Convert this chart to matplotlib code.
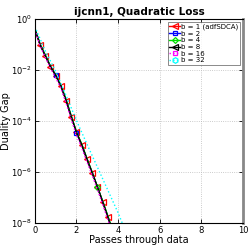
import matplotlib
matplotlib.use("Agg")
import matplotlib.pyplot as plt
import numpy as np

# data (log10 of duality gap)
x_grid = [0, 0.25, 0.5, 0.75, 1.0, 1.25, 1.5, 1.75, 2.0, 2.25, 2.5, 2.75, 3.0, 3.25, 3.5, 3.62]
red_log = [-0.4, -1.02, -1.45, -1.88, -2.22, -2.63, -3.2, -3.85, -4.45, -4.94, -5.5, -6.03, -6.57, -7.16, -7.75, -8.05]
blue_log = [-0.38, -1.0, -1.43, -1.86, -2.2, -2.62, -3.18, -3.82, -4.46, -4.93, -5.48, -6.01, -6.57, -7.14, -7.73, -8.03]
green_log = [-0.36, -0.98, -1.41, -1.85, -2.2, -2.6, -3.16, -3.8, -4.43, -4.9, -5.46, -6.0, -6.57, -7.12, -7.7, -8.0]
black_log = [-0.39, -1.01, -1.44, -1.87, -2.21, -2.62, -3.19, -3.84, -4.45, -4.93, -5.49, -6.02, -6.57, -7.15, -7.74, -8.04]
magenta_log = [-0.42, -1.05, -1.5, -1.93, -2.3, -2.72, -3.3, -3.95, -4.55, -5.05, -5.6, -6.12, -6.67, -7.25, -7.85, -8.15]
x_cyan = [0, 0.5, 1.0, 1.5, 2.0, 2.5, 3.0, 3.5, 4.0, 4.25]
cyan_log = [-0.3, -1.25, -2.05, -3.0, -3.98, -4.9, -5.8, -6.7, -7.6, -8.1]

labels = ["b = 1 (adfSDCA)", "b = 2", "b = 4", "b = 8", "b = 16", "b = 32"]

fig = plt.figure(figsize=(2.49, 2.49), dpi=100)
ax = fig.add_axes([0.14, 0.104, 0.836, 0.82])

ax.plot(x_grid, np.power(10.0, red_log), color="red", lw=1.0, marker="<", ms=4, mfc="none",
        mew=0.9, markevery=list(range(1, 15)), label=labels[0])
ax.plot(x_grid, np.power(10.0, blue_log), color="blue", lw=1.0, marker="s", ms=3.5, mfc="none",
        mew=0.9, markevery=[4, 8], label=labels[1])
ax.plot(x_grid, np.power(10.0, green_log), color="#00dd00", lw=1.0, marker="D", ms=3, mfc="none",
        mew=0.9, markevery=[12], label=labels[2])
ax.plot(x_grid, np.power(10.0, black_log), color="black", lw=1.0, marker="<", ms=4, mfc="none",
        mew=0.9, markevery=[], label=labels[3])
ax.plot(x_grid, np.power(10.0, magenta_log), color="magenta", lw=1.0, ls=":", marker="s", ms=3.5,
        mfc="none", mew=0.9, markevery=[], label=labels[4])
ax.plot(x_cyan, np.power(10.0, cyan_log), color="cyan", lw=1.0, ls=":", marker="h", ms=4,
        mfc="none", mew=0.9, markevery=[], label=labels[5])

ax.set_yscale("log")
ax.set_xlim(0, 10)
ax.set_ylim(1e-8, 1)
ax.set_xticks([0, 2, 4, 6, 8, 10])
ax.set_yticks([1e0, 1e-2, 1e-4, 1e-6, 1e-8])
ax.minorticks_off()
ax.tick_params(direction="in", labelsize=6, top=True, right=True, length=3, width=0.6, pad=2)
ax.grid(True, ls=":", color="#bbbbbb", lw=0.6)
for s in ax.spines.values():
    s.set_linewidth(0.8)
ax.spines["right"].set_color("#888888")
ax.spines["right"].set_linewidth(2.0)

ax.set_title("ijcnn1, Quadratic Loss", fontsize=7.5, fontweight="bold", pad=3)
ax.set_xlabel("Passes through data", fontsize=7, labelpad=0)
ax.set_ylabel("Duality Gap", fontsize=7, labelpad=0)

leg = ax.legend(loc="upper right", fontsize=5, frameon=True, fancybox=False,
                handlelength=1.5, handletextpad=0.2, borderpad=0.25, labelspacing=0.1,
                borderaxespad=0.4)
leg.get_frame().set_edgecolor("#555555")
leg.get_frame().set_linewidth(0.6)

fig.savefig("out.png", dpi=100)
